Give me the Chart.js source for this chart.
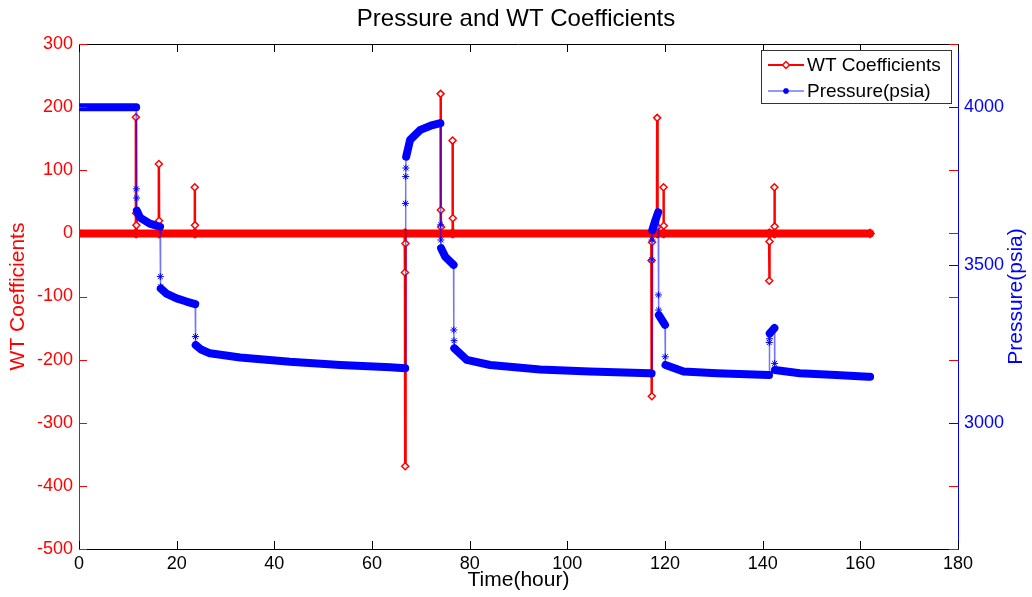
<!DOCTYPE html>
<html>
<head>
<meta charset="utf-8">
<title>Pressure and WT Coefficients</title>
<script src="https://cdn.jsdelivr.net/npm/chart.js@4.4.1/dist/chart.umd.min.js"></script>
<style>
  html, body { margin: 0; padding: 0; background: #fff; }
</style>
</head>
<body>
<canvas id="wtChart" width="1032" height="597"></canvas>
<script>
// values
const wtTime = [0,
  11.6, 11.65, 11.7, 11.75, 11.8,
  16.3, 16.35, 16.4, 16.45,
  23.65, 23.7, 23.75, 23.8,
  66.7, 66.75, 66.8, 66.85, 66.9,
  74.0, 74.05, 74.1, 74.15, 74.2,
  76.45, 76.5, 76.55, 76.6,
  117.2, 117.25, 117.3, 117.35, 117.4,
  118.35, 118.4, 118.45, 118.5,
  119.65, 119.7, 119.75, 119.8,
  141.3, 141.35, 141.4, 141.45,
  142.35, 142.4, 142.45, 142.5,
  162];
const wtValue = [0,
  0, 184, 32, 13, 0,
  0, 110, 20, 0,
  0, 73, 13, 0,
  0, -62, -369, -16, 0,
  0, 221, 37, 10, 0,
  0, 147, 24, 0,
  0, -43, -258, -14, 0,
  0, 183, 10, 0,
  0, 73, 12, 0,
  0, -75, -13, 0,
  0, 73, 11, 0,
  0];

const pressureTime = [0, 11.7, 11.75, 11.8, 11.85, 12.5, 14.5, 16.6,
  16.65, 16.7, 16.75, 18, 20, 22, 23.8,
  23.85, 23.9, 25, 26.8, 33, 43.2, 53.5, 63.7, 66.8,
  66.85, 66.9, 66.95, 67.0, 67.8, 69.9, 72, 74.0,
  74.05, 74.1, 74.15, 75, 76.7,
  76.75, 76.8, 76.85, 79.4, 84.2, 94.4, 104.6, 116.9, 117.25,
  117.3, 117.35, 117.4, 118.0, 118.6,
  118.65, 118.7, 118.75, 120.0,
  120.05, 120.1, 123.8, 130.6, 141.3,
  141.35, 141.4, 141.45, 142.4,
  142.45, 142.5, 147.6, 155, 161.6, 162];
const pressureValue = [4000, 4000, 3741, 3712, 3672, 3650, 3631, 3621,
  3463, 3431, 3425, 3408, 3394, 3384, 3376,
  3273, 3246, 3232, 3220, 3207, 3193, 3183, 3176, 3173,
  3695, 3780, 3807, 3843, 3896, 3928, 3941, 3949,
  3627, 3579, 3553, 3526, 3500,
  3294, 3260, 3236, 3199, 3183, 3169, 3162, 3157, 3156,
  3516, 3579, 3610, 3640, 3667,
  3405, 3357, 3341, 3310,
  3209, 3183, 3162, 3157, 3151,
  3254, 3266, 3283, 3300,
  3188, 3167, 3157, 3151, 3146, 3146];

const timeTicks = [0, 20, 40, 60, 80, 100, 120, 140, 160, 180];
const wtTicks = [-500, -400, -300, -200, -100, 0, 100, 200, 300];
const pressureTicks = [3000, 3500, 4000];

const RED = '#ff0000';
const BLUE = '#0000ff';
const THIN_BLUE = 'rgba(0,0,255,0.55)';
const FONT = "'Liberation Sans', Arial, Helvetica, sans-serif";

Chart.defaults.font.family = FONT;

function toPoints(xs, ys) {
  return xs.map((x, i) => ({ x: x, y: ys[i] }));
}

// inward tick marks, top frame line and the right axis title (reads bottom to top)
const matlabTicks = {
  id: 'matlabTicks',
  afterDatasetsDraw(chart) {
    const { ctx, chartArea: a, scales } = chart;
    const len = 8;
    ctx.save();
    ctx.lineWidth = 1;

    ctx.strokeStyle = '#000';
    ctx.beginPath();
    ctx.moveTo(a.left, a.top + 0.5);
    ctx.lineTo(a.right, a.top + 0.5);
    timeTicks.forEach(v => {
      const px = Math.round(scales.x.getPixelForValue(v)) + 0.5;
      ctx.moveTo(px, a.bottom);
      ctx.lineTo(px, a.bottom - len);
      ctx.moveTo(px, a.top);
      ctx.lineTo(px, a.top + len);
    });
    ctx.stroke();

    ctx.strokeStyle = RED;
    ctx.beginPath();
    wtTicks.forEach(v => {
      const py = Math.round(scales.y.getPixelForValue(v)) + 0.5;
      ctx.moveTo(a.left, py);
      ctx.lineTo(a.left + len, py);
      ctx.moveTo(a.right, py);
      ctx.lineTo(a.right - len - 1, py);
    });
    ctx.stroke();

    ctx.strokeStyle = BLUE;
    ctx.beginPath();
    pressureTicks.forEach(v => {
      const py = Math.round(scales.y2.getPixelForValue(v)) + 0.5;
      ctx.moveTo(a.right, py);
      ctx.lineTo(a.right - len - 1, py);
    });
    ctx.stroke();

    ctx.translate(chart.width - 16, (a.top + a.bottom) / 2);
    ctx.rotate(-Math.PI / 2);
    ctx.fillStyle = BLUE;
    ctx.font = '21px ' + FONT;
    ctx.textAlign = 'center';
    ctx.textBaseline = 'middle';
    ctx.fillText('Pressure(psia)', 0, 0);
    ctx.restore();
  }
};

// boxed legend inside the top right corner
const boxLegend = {
  id: 'boxLegend',
  afterDraw(chart) {
    const { ctx, chartArea: a } = chart;
    const w = 190, h = 53;
    const x0 = a.right - 7 - w, y0 = a.top + 6;
    ctx.save();
    ctx.fillStyle = '#fff';
    ctx.fillRect(x0, y0, w, h);
    ctx.strokeStyle = '#333';
    ctx.lineWidth = 1;
    ctx.strokeRect(x0 + 0.5, y0 + 0.5, w, h);

    const rows = [
      { label: chart.data.datasets[0].label, y: y0 + 15, color: RED, width: 2, style: 'rectRot', r: 3.5 },
      { label: chart.data.datasets[1].label, y: y0 + 41, color: THIN_BLUE, width: 1.5, style: 'star', r: 3 }
    ];
    rows.forEach(row => {
      ctx.strokeStyle = row.color;
      ctx.lineWidth = row.width;
      ctx.beginPath();
      ctx.moveTo(x0 + 7, row.y);
      ctx.lineTo(x0 + 43, row.y);
      ctx.stroke();
      ctx.fillStyle = '#fff';
      ctx.strokeStyle = row.style === 'star' ? BLUE : RED;
      ctx.lineWidth = 1.5;
      Chart.helpers.drawPoint(ctx, { pointStyle: row.style, radius: row.r, borderWidth: 1.5, rotation: 0 }, x0 + 25, row.y);
      ctx.fillStyle = '#000';
      ctx.font = '19px ' + FONT;
      ctx.textBaseline = 'middle';
      ctx.fillText(row.label, x0 + 46, row.y + 1);
    });
    ctx.restore();
  }
};

const ctx = document.getElementById('wtChart').getContext('2d');
const chart = new Chart(ctx, {
  type: 'line',
  data: {
    datasets: [
      {
        label: 'WT Coefficients',
        data: toPoints(wtTime, wtValue),
        yAxisID: 'y',
        order: 2,
        borderColor: RED,
        borderWidth: 2.5,
        borderCapStyle: 'round',
        pointStyle: 'rectRot',
        pointRadius: c => (c.raw && c.raw.y === 0 ? 4 : 3.5),
        pointBorderColor: RED,
        pointBorderWidth: 1.5,
        pointBackgroundColor: c => (c.raw && c.raw.y === 0 ? RED : '#fff'),
        fill: false,
        tension: 0,
        segment: {
          borderWidth: s => (s.p0.parsed.y === 0 && s.p1.parsed.y === 0 ? 8 : 2.5)
        }
      },
      {
        label: 'Pressure(psia)',
        data: toPoints(pressureTime, pressureValue),
        yAxisID: 'y2',
        order: 1,
        borderColor: BLUE,
        borderWidth: 8,
        borderCapStyle: 'round',
        borderJoinStyle: 'round',
        pointStyle: 'star',
        pointRadius: 3.5,
        pointBorderColor: BLUE,
        pointBorderWidth: 1,
        fill: false,
        tension: 0,
        segment: {
          borderWidth: s => (s.p1.parsed.x - s.p0.parsed.x < 0.2 ? 1.5 : 8),
          borderColor: s => (s.p1.parsed.x - s.p0.parsed.x < 0.2 ? THIN_BLUE : BLUE)
        }
      }
    ]
  },
  options: {
    responsive: false,
    animation: false,
    layout: { padding: 0 },
    plugins: {
      legend: { display: false },
      tooltip: { enabled: false },
      title: {
        display: true,
        text: 'Pressure and WT Coefficients',
        color: '#000',
        font: { size: 24, weight: 'normal' },
        padding: { top: 5, bottom: 10.2 }
      }
    },
    scales: {
      x: {
        type: 'linear',
        min: 0,
        max: 180,
        afterBuildTicks: s => { s.ticks = timeTicks.map(v => ({ value: v })); },
        afterFit: s => { s.height = 48; },
        grid: { display: false, drawTicks: false },
        border: { color: '#000', width: 1 },
        ticks: { color: '#000', font: { size: 18 }, padding: 4, autoSkip: false, maxRotation: 0 },
        title: { display: true, text: 'Time(hour)', color: '#000', font: { size: 21 }, padding: { top: 4, bottom: 4 } }
      },
      y: {
        position: 'left',
        min: -500,
        max: 300,
        afterBuildTicks: s => { s.ticks = wtTicks.map(v => ({ value: v })); },
        afterFit: s => { s.width = 79; },
        grid: { display: false, drawTicks: false },
        border: { color: RED, width: 1 },
        ticks: { color: RED, font: { size: 18 }, padding: 6 },
        title: { display: true, text: 'WT Coefficients', color: RED, font: { size: 21 }, padding: { top: 6, bottom: 4 } }
      },
      y2: {
        position: 'right',
        min: 2600,
        max: 4200,
        afterBuildTicks: s => { s.ticks = pressureTicks.map(v => ({ value: v })); },
        afterFit: s => { s.width = 74; },
        grid: { display: false, drawTicks: false },
        border: { color: BLUE, width: 1 },
        ticks: { color: BLUE, font: { size: 18 }, padding: 6, callback: v => String(v) },
        title: { display: false }
      }
    }
  },
  plugins: [matlabTicks, boxLegend]
});
</script>
</body>
</html>
